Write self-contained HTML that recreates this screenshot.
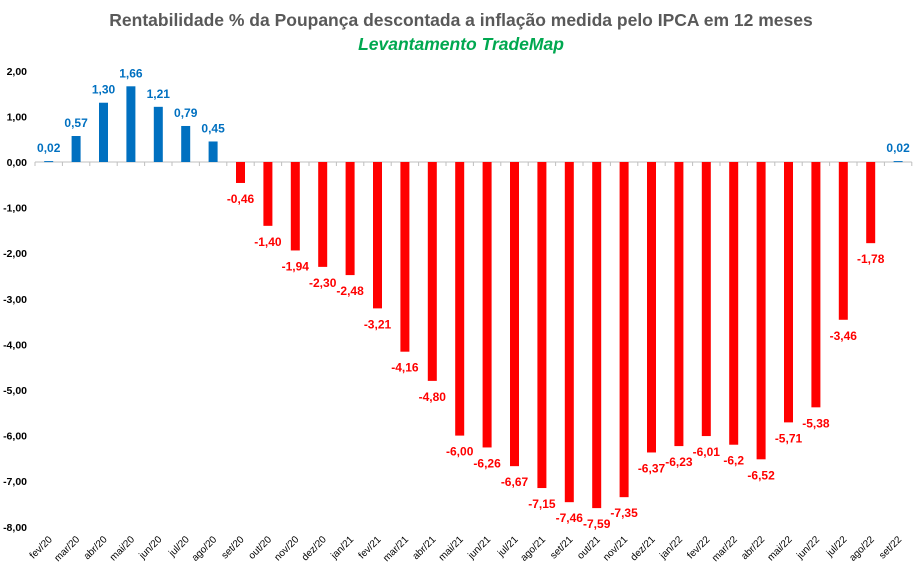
<!DOCTYPE html>
<html><head><meta charset="utf-8"><style>
body{margin:0;background:#fff}
svg{display:block;font-family:"Liberation Sans",sans-serif}
</style></head><body>
<svg id="c" width="922" height="575" xmlns="http://www.w3.org/2000/svg">
<text x="461" y="26" text-anchor="middle" font-size="17.5" font-weight="bold" fill="#595959">Rentabilidade % da Poupança descontada a inflação medida pelo IPCA em 12 meses</text>
<text x="461" y="50" text-anchor="middle" font-size="17.5" font-weight="bold" font-style="italic" fill="#00a850">Levantamento TradeMap</text>
<g id="g"></g>
</svg>
<script>
var vals=[0.02,0.57,1.30,1.66,1.21,0.79,0.45,-0.46,-1.40,-1.94,-2.30,-2.48,-3.21,-4.16,-4.80,-6.00,-6.26,-6.67,-7.15,-7.46,-7.59,-7.35,-6.37,-6.23,-6.01,-6.2,-6.52,-5.71,-5.38,-3.46,-1.78,0.02];
var labs=["fev/20","mar/20","abr/20","mai/20","jun/20","jul/20","ago/20","set/20","out/20","nov/20","dez/20","jan/21","fev/21","mar/21","abr/21","mai/21","jun/21","jul/21","ago/21","set/21","out/21","nov/21","dez/21","jan/22","fev/22","mar/22","abr/22","mai/22","jun/22","jul/22","ago/22","set/22"];
var y0=162,u=45.6,x0=35,st=27.4,s="";
for(var v=2;v>=-8;v--){var y=y0-v*u;s+='<text x="27" y="'+(y+4)+'" text-anchor="end" font-size="10.5" font-weight="bold" fill="#000">'+(v.toFixed(2).replace(".",","))+'</text>';}
s+='<line x1="'+x0+'" y1="'+y0+'" x2="'+(x0+32*st)+'" y2="'+y0+'" stroke="#bfbfbf" stroke-width="1"/>';
for(var i=0;i<=32;i++){var x=x0+i*st;s+='<line x1="'+x+'" y1="'+y0+'" x2="'+x+'" y2="'+(y0+4)+'" stroke="#bfbfbf"/>';}
vals.forEach(function(v,i){
 var cx=x0+st*(i+0.5),h=Math.abs(v)*u,pos=v>=0;
 var col=pos?"#0070c0":"#ff0000";
 var y=pos?y0-h:y0;
 s+='<rect x="'+(cx-4.5)+'" y="'+y+'" width="9" height="'+Math.max(h,1)+'" fill="'+col+'"/>';
 var ly=pos?y0-h-9:y0+h+20;
 var t=(Math.round(v*100)==-620)?"-6,2":v.toFixed(2).replace(".",",");
 s+='<text x="'+cx+'" y="'+ly+'" text-anchor="middle" font-size="12" font-weight="bold" fill="'+col+'">'+t+'</text>';
 s+='<text transform="translate('+(cx+4)+',540) rotate(-45)" text-anchor="end" font-size="10" fill="#000">'+labs[i]+'</text>';
});
document.getElementById("g").innerHTML=s;
</script>
</body></html>
